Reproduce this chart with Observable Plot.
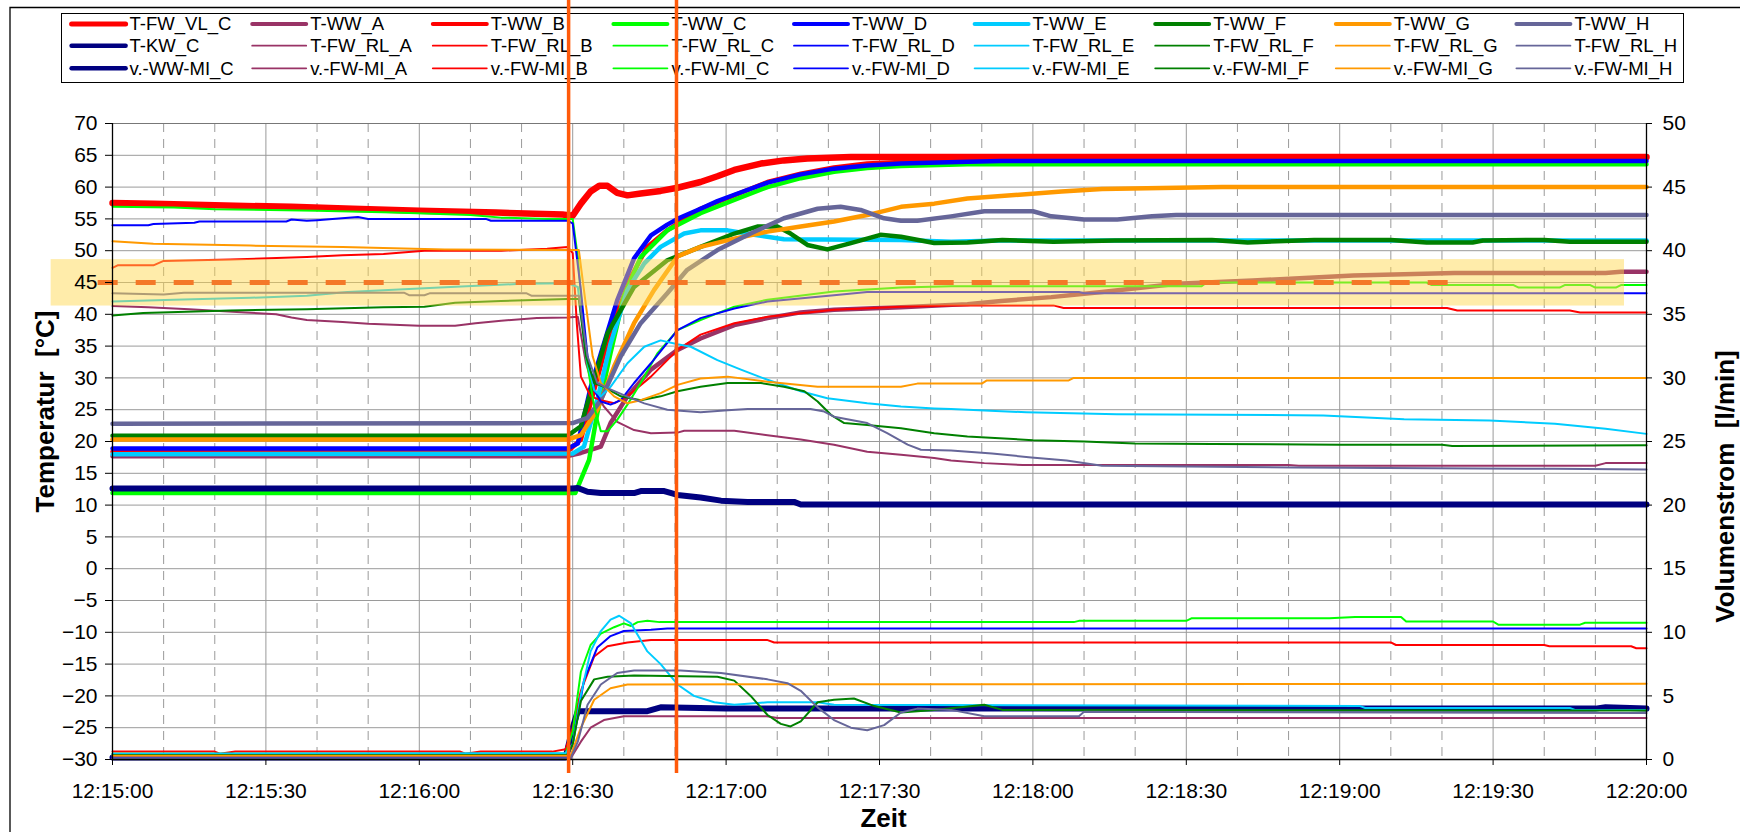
<!DOCTYPE html>
<html><head><meta charset="utf-8">
<script src="https://cdn.jsdelivr.net/npm/d3@7"></script>
<script src="https://cdn.jsdelivr.net/npm/@observablehq/plot@0.6"></script>
<style>
html,body{margin:0;padding:0;background:#fff;}
#wrap{position:relative;width:1740px;height:832px;overflow:hidden;font-family:"Liberation Sans",Arial,sans-serif;}
#legend,#chart{position:absolute;left:0;top:0;}
</style></head><body>
<div id="wrap"><svg id="legend" width="1740" height="832"></svg><div id="chart"></div></div>
<script>
// ---------- DATA (time = seconds after 12:15:00) ----------
const startClock = "12:15:00";
const timeTicks = [0, 30, 60, 90, 120, 150, 180, 210, 240, 270, 300];
const timeMinor = [10, 20, 40, 50, 70, 80, 100, 110, 130, 140, 160, 170, 190, 200, 220, 230, 250, 260, 280, 290];
const tempTicks = [-30,-25,-20,-15,-10,-5,0,5,10,15,20,25,30,35,40,45,50,55,60,65,70];

// temperatures [°C]
const T_FW_VL_C = [[0,57.5],[8,57.4],[22,57.1],[35,56.9],[47,56.6],[60,56.3],[75,56.0],[88,55.7],[90,55.5],[91.6,57.4],[93.5,59.3],[95.2,60.2],[96.8,60.2],[98.7,59.1],[100.7,58.7],[103.3,59.0],[107.2,59.4],[110.5,59.9],[115,60.8],[118.3,61.7],[121.6,62.7],[126.8,63.7],[131.3,64.2],[135.9,64.5],[144.4,64.75],[300,64.75]];
const T_WW_A = [[0,17.7],[89,17.7],[91.6,18.2],[93.5,18.7],[95.5,19.2],[97.4,22.9],[100.7,27.1],[105.3,31.3],[110.5,34.4],[115,36.2],[121.6,38.3],[128.1,39.4],[134.6,40.3],[141.1,40.7],[154.2,41.1],[167.2,41.6],[173.8,42.1],[183.6,42.7],[193.5,43.5],[208.2,44.8],[223,45.3],[242.7,46.1],[262.4,46.5],[292,46.5],[295,46.7],[300,46.7]];
const T_WW_B = [[0,18.4],[89,18.4],[91.6,20.3],[94.2,28.1],[97.4,37.5],[101.4,45.9],[104.6,50.6],[108.5,53.2],[115,56.6],[121.6,58.7],[128.1,60.8],[134.6,62.1],[141.1,63.1],[147.6,63.7],[160.7,64.2],[175,64.5],[300,64.5]];
const T_WW_C = [[0,11.9],[90.5,11.9],[93.2,17.1],[94.8,24.4],[97.4,33.9],[100,42.8],[103.3,49],[108.5,53.2],[115,55.9],[121.6,58.0],[128.1,60.0],[134.6,61.4],[141.1,62.4],[147.6,63.0],[154.2,63.3],[167.2,63.6],[300,63.6]];
const T_WW_D = [[0,18.9],[89,18.9],[91,19.7],[93.5,28.5],[95.5,33.8],[98.7,42.2],[102,48.8],[105.3,52.4],[108.5,54.1],[110.5,55.0],[115,56.6],[118.3,57.8],[121.6,58.8],[128.1,60.7],[134.6,62.0],[141.1,62.9],[147.6,63.4],[154.2,63.7],[167.2,64.0],[173.8,64.1],[300,64.1]];
const T_WW_E = [[0,18.0],[90,18.1],[92.2,19.2],[94.8,26.5],[97.4,35.4],[100.7,43.8],[104,48],[107.2,50.6],[111.8,52.7],[115,53.2],[120.3,53.2],[125.5,52.5],[131.3,51.8],[154.2,51.7],[164,51.4],[173.7,51.6],[300,51.6]];
const T_WW_F = [[0,20.9],[89,20.9],[91.6,22.4],[94.2,29.7],[96.8,37],[102,44.3],[108.5,48.5],[115,50.6],[121.6,52.7],[126.1,53.8],[130,53.8],[132.6,52.7],[135.9,50.9],[139.8,50.2],[144.4,51.2],[150.2,52.5],[154.2,52.2],[160.7,51.2],[167.2,51.3],[174,51.7],[184,51.4],[196,51.6],[215,51.7],[222,51.3],[235,51.7],[250,51.7],[257,51.3],[266,51.3],[268,51.6],[280,51.7],[285,51.4],[300,51.4]];
const T_WW_G = [[0,20.3],[89,20.3],[91.6,21],[94.8,25],[98.1,31.8],[102,38.6],[105.9,43.8],[110.5,49.1],[115,50.6],[121.6,51.9],[128.1,53],[134.6,53.8],[141.1,54.6],[147.6,55.6],[154.2,56.9],[160.7,57.4],[167.2,58.2],[173.8,58.6],[185.6,59.3],[193.5,59.7],[217,60],[300,60]];
const T_WW_H = [[0,22.8],[90,22.9],[92.9,23.7],[95.5,26.5],[99.4,33.4],[103.3,38.6],[108.5,43.3],[112.4,47],[118.3,50.1],[124.8,52.7],[131.3,55.1],[137.9,56.6],[142.4,56.9],[146.3,56.4],[150.9,55.1],[154.2,54.7],[157.4,54.7],[164,55.4],[170.5,56.2],[180,56.2],[183.6,55.4],[190,54.9],[196.5,54.9],[203.3,55.4],[208,55.6],[300,55.6]];
const T_KW_C = [[0,12.6],[90,12.6],[91,12.7],[92.9,12.1],[95.5,11.9],[102,11.9],[103.3,12.2],[107.9,12.2],[110.5,11.6],[115,11.2],[119,10.7],[124.2,10.5],[133.3,10.5],[134.6,10.1],[300,10.1]];
const T_FW_RL_A = [[0,41.3],[7,41.1],[15,40.8],[26,40.3],[32,40.0],[35,39.5],[38,39.1],[45,38.8],[50,38.5],[60,38.2],[67,38.2],[71,38.6],[76,39.0],[83,39.4],[89,39.5],[91,39.6],[92.6,32.3],[94.2,28.1],[96.1,25.5],[98.7,23.1],[102,21.8],[105.3,21.3],[110.5,21.4],[111.8,21.7],[121.6,21.7],[128.1,21.0],[134.6,20.3],[141.1,19.5],[147.6,18.4],[154.2,17.9],[160.7,17.4],[164,17.0],[170.5,16.6],[178,16.3],[230,16.3],[232,16.2],[290,16.2],[292,16.6],[300,16.6]];
const T_FW_RL_B = [[0,47.3],[1,47.7],[8,47.7],[10,48.4],[23,48.6],[38,49.0],[45,49.3],[53,49.5],[61,50.0],[76,50.0],[85,50.3],[89,50.6],[90,49.6],[90.8,38.6],[91.6,30.2],[93.5,27.1],[95.5,26.5],[98.1,26.0],[100.7,27.1],[105.3,30.2],[110.5,34.4],[115,36.8],[121.6,38.6],[128.1,39.6],[141.1,40.7],[154.2,41.2],[164,41.4],[184,41.4],[186,41.0],[261,41.0],[263,40.6],[285,40.6],[287,40.3],[300,40.3]];
const T_FW_RL_C = [[0,56.9],[12,56.8],[20,56.5],[40,56.3],[55,56.0],[70,55.6],[76,55.2],[85,55.0],[90,55.0],[91,49],[92.6,33.4],[94.2,25.5],[95.5,21.6],[96.8,21.6],[98.7,23.4],[100.7,25.8],[103.3,29.2],[106.6,33.9],[110.5,37.5],[115,39.1],[121.6,41.2],[128.1,42.3],[141.1,43.6],[154.2,44.2],[164,44.4],[213,44.4],[214,45.0],[257,45.0],[258,44.6],[274,44.6],[275,44.2],[283,44.2],[284,44.6],[289,44.6],[290,44.2],[294,44.2],[295,44.6],[300,44.6]];
const T_FW_RL_D = [[0,54.0],[7,54.0],[8,54.2],[16,54.4],[17,54.6],[34,54.6],[35,54.9],[38,54.7],[40,54.8],[43,55.0],[48,55.3],[50,55.0],[73,55.0],[74,54.7],[89,54.7],[90,54.3],[91.6,43.8],[92.9,33.4],[94.2,28.1],[95.5,26.3],[97.4,25.8],[99.4,26.5],[102,29.2],[105.3,32.3],[110.5,37.5],[115,39.4],[121.6,40.9],[128.1,42],[141.1,43],[147.6,43.5],[189,43.5],[190,43.3],[300,43.3]];
const T_FW_RL_E = [[0,42.0],[12,42.3],[27,42.6],[38,42.9],[46,43.5],[53,43.8],[64,44.2],[80,44.8],[89,44.9],[91,44.3],[92.6,33.4],[94.2,28.1],[95.5,27.1],[97.4,28.6],[100.7,32.3],[104,34.9],[107.2,35.9],[110.5,35.3],[113.1,34.9],[118.3,32.8],[122.9,31.3],[128.1,29.7],[134.6,27.9],[139.8,26.8],[147.6,26.0],[154.2,25.5],[160.7,25.2],[164,25.1],[178.7,24.6],[196.4,24.3],[236.8,24.1],[252.6,23.5],[269.3,23.3],[282.1,22.8],[292,22.0],[300,21.2]];
const T_FW_RL_F = [[0,39.8],[6,40.2],[23,40.6],[38,40.8],[53,41.1],[61,41.2],[67,41.8],[76,42.1],[89,42.4],[91.2,42.4],[92.6,33.4],[94.2,29.2],[96.1,28.6],[99.4,27.1],[103.3,26.5],[107.2,27.1],[110.5,27.9],[115,28.6],[120.3,29.2],[126.8,29.2],[131.3,28.6],[135.3,27.9],[137.9,26.3],[140.5,24.2],[143.1,22.9],[147.6,22.6],[154.2,22.1],[160.7,21.3],[167.2,20.8],[180,20.2],[190,20.0],[200,19.7],[215,19.6],[240,19.5],[260,19.5],[262,19.3],[300,19.4]];
const T_FW_RL_G = [[0,51.5],[8,51.1],[27,50.8],[45,50.6],[65,50.2],[91.2,50.1],[92.2,43.8],[93.9,33.4],[95.5,29.2],[98.1,27.1],[100.7,26.0],[103.3,26.5],[107.2,27.6],[110.5,28.9],[115,29.9],[120.3,30.2],[128.1,29.4],[137.9,28.6],[154.2,28.6],[157.4,29.1],[170,29.1],[171,29.6],[187,29.6],[188,30.0],[300,30.0]];
const T_FW_RL_H = [[0,43.3],[10,43.1],[14,43.4],[57,43.4],[58,43.0],[61,43.0],[62,43.3],[81,43.3],[82,42.9],[91.2,42.9],[92.9,33.4],[94.8,29.2],[96.8,28.4],[100,27.3],[104,26.0],[108.5,25.0],[115,24.6],[120.3,24.9],[124.2,25.1],[136.5,25.1],[139.2,24.7],[141.1,23.9],[147.6,22.9],[151.5,21.3],[155.5,19.5],[158.1,18.7],[164,18.6],[172,18.1],[179.7,17.5],[186.6,17.0],[193.5,16.2],[231,15.9],[282,15.7],[300,15.6]];

// flows [l/min] (secondary axis)
const V_WW_MI_C = [[0,0.15],[88.6,0.15],[90,2.5],[91,3.8],[104.6,3.8],[107.2,4.1],[120,4.0],[290,4.0],[292,4.1],[300,4.0]];
const V_FW_MI_A = [[0,0.1],[89.6,0.1],[91.6,1.4],[93.5,2.5],[96.1,3.1],[100,3.4],[128,3.4],[130,3.27],[300,3.27]];
const V_FW_MI_B = [[0,0.62],[20,0.62],[21,0.45],[24,0.62],[68,0.62],[69,0.45],[72,0.62],[86,0.62],[88.6,0.8],[90,2.5],[91.6,5.4],[94.2,8.1],[96.8,8.9],[100.7,9.2],[105.3,9.4],[128,9.4],[129.4,9.2],[250,9.2],[251,9.0],[280,9.0],[281,8.9],[297,8.9],[298,8.75],[300,8.75]];
const V_FW_MI_C = [[0,0.45],[88.6,0.45],[90,2.2],[91.6,6.9],[93.5,9.0],[95.5,9.9],[98.1,10.4],[100,10.7],[101.4,10.5],[102.7,10.8],[104.6,10.9],[107,10.8],[188,10.8],[189,10.9],[210,10.9],[211,11.1],[238,11.1],[243,11.2],[252,11.2],[253,10.85],[270,10.85],[271,10.6],[287,10.6],[288,10.75],[300,10.75]];
const V_FW_MI_D = [[0,0.2],[89,0.2],[90,1.2],[92.2,6.2],[94.8,8.8],[97.4,9.7],[100,10.1],[105.3,10.2],[108.5,10.3],[300,10.3]];
const V_FW_MI_E = [[0,0.45],[88.6,0.5],[90,1.2],[91.6,5.1],[93.5,8.5],[95.5,10.1],[97.4,11.0],[99.1,11.3],[101.4,10.7],[104.6,8.5],[107.2,7.5],[110.5,5.9],[113.7,5.0],[117.7,4.5],[121.6,4.3],[128.1,4.5],[137.9,4.5],[141.1,4.3],[244,4.2],[245,4.05],[285,4.05],[286,3.9],[300,3.9]];
const V_FW_MI_F = [[0,0.35],[89,0.35],[90,1.2],[91.6,4.6],[94.2,6.3],[96.8,6.5],[102,6.6],[118.3,6.5],[121.6,6.2],[124.8,5.0],[128.1,3.5],[130.7,2.8],[132.6,2.6],[134.6,3.0],[137.9,4.5],[141.1,4.7],[145,4.8],[149,4.2],[154.2,3.7],[160.7,3.9],[170.5,4.3],[174,3.9],[300,3.85]];
const V_FW_MI_G = [[0,0.3],[89.6,0.3],[91.6,2.5],[94.2,4.7],[97.4,5.6],[100.7,5.9],[300,5.95]];
const V_FW_MI_H = [[0,0.1],[89.6,0.1],[91,1.4],[92.9,4.3],[95.5,5.9],[98.7,6.8],[102,7.0],[111.1,7.0],[119,6.8],[128.1,6.3],[132,6.0],[134.6,5.4],[137.9,4.1],[141.1,3.1],[144.4,2.5],[147.6,2.3],[150.9,2.7],[154.2,3.7],[157.4,4.0],[164,3.9],[170.5,3.4],[189,3.4],[190,3.75],[300,3.65]];

// annotations
const markerTimes = [89.2, 110.3];
const targetTemp = [45];
const targetSpan = [-2.8, 261.4];
const bandTemp = [41.3, 48.6];
const bandSpan = [-12, 295.7];

// series names (legend order) and their data
const seriesNames = ["T-FW_VL_C","T-WW_A","T-WW_B","T-WW_C","T-WW_D","T-WW_E","T-WW_F","T-WW_G","T-WW_H",
  "T-KW_C","T-FW_RL_A","T-FW_RL_B","T-FW_RL_C","T-FW_RL_D","T-FW_RL_E","T-FW_RL_F","T-FW_RL_G","T-FW_RL_H",
  "v.-WW-MI_C","v.-FW-MI_A","v.-FW-MI_B","v.-FW-MI_C","v.-FW-MI_D","v.-FW-MI_E","v.-FW-MI_F","v.-FW-MI_G","v.-FW-MI_H"];
const seriesValues = [T_FW_VL_C,T_WW_A,T_WW_B,T_WW_C,T_WW_D,T_WW_E,T_WW_F,T_WW_G,T_WW_H,
  T_KW_C,T_FW_RL_A,T_FW_RL_B,T_FW_RL_C,T_FW_RL_D,T_FW_RL_E,T_FW_RL_F,T_FW_RL_G,T_FW_RL_H,
  V_WW_MI_C,V_FW_MI_A,V_FW_MI_B,V_FW_MI_C,V_FW_MI_D,V_FW_MI_E,V_FW_MI_F,V_FW_MI_G,V_FW_MI_H];

// ---------- STYLE ----------
const palette = ["#FF0000","#993366","#FF0000","#00FF00","#0000FF","#00CCFF","#008000","#FF9900","#666699"];
const colorOf = i => (i % 9 === 0) ? (i === 0 ? "#FF0000" : "#000080") : palette[i % 9];
const lineWidth = i => i === 0 ? 6.5 : (i < 9 ? 4.5 : (i === 9 || i === 18) ? 6 : 2);
const legWidth = i => i === 0 ? 5 : (i < 9 ? 4 : (i === 9 || i === 18) ? 4.5 : 1.8);
const isFlow = i => i >= 18;
const FONT = '"Liberation Sans", Arial, sans-serif';

// ---------- LEGEND + CHART BORDER (behind the plot) ----------
const leg = d3.select("#legend");
leg.append("path").attr("d", "M10,832V7.5H1740").attr("fill", "none").attr("stroke", "#000").attr("stroke-width", 1.3);
leg.append("rect").attr("x", 61.5).attr("y", 13.5).attr("width", 1622).attr("height", 69)
  .attr("fill", "#fff").attr("stroke", "#000").attr("stroke-width", 1);
const rowY = [24, 45.7, 68.3];
seriesNames.forEach((name, i) => {
  const row = Math.floor(i / 9), col = i % 9;
  const x0 = 71.6 + col * 180.6, y = rowY[row];
  leg.append("line").attr("x1", x0).attr("x2", x0 + 54).attr("y1", y).attr("y2", y)
    .attr("stroke", colorOf(i)).attr("stroke-width", legWidth(i)).attr("stroke-linecap", "round");
  leg.append("text").attr("x", x0 + 58).attr("y", y).attr("dy", "0.35em")
    .attr("font-family", FONT).attr("font-size", 18.5).attr("fill", "#000").text(name);
});

// ---------- PLOT ----------
const [h0, m0, s0] = startClock.split(":").map(Number);
const base = h0 * 3600 + m0 * 60 + s0;
const pad = n => String(n).padStart(2, "0");
const clock = t => { const s = base + t; return `${pad(Math.floor(s / 3600))}:${pad(Math.floor(s / 60) % 60)}:${pad(s % 60)}`; };

const toRows = (arr, i) => arr.map(([t, v]) => ({t, v, flow: isFlow(i)}));
const yOf = d => d.flow ? d.v * 2 - 30 : d.v; // secondary axis 0..50 l/min ↔ -30..70 °C

const lineMarks = seriesValues.map((arr, i) =>
  Plot.line(toRows(arr, i), {x: "t", y: yOf, stroke: colorOf(i), strokeWidth: lineWidth(i), strokeLinejoin: "round", strokeLinecap: "round"}));

const xDom = [timeTicks[0], timeTicks[timeTicks.length - 1]];
const yDom = [tempTicks[0], tempTicks[tempTicks.length - 1]];

const chart = Plot.plot({
  width: 1740, height: 832,
  marginLeft: 112, marginRight: 94, marginTop: 123, marginBottom: 73,
  x: {domain: xDom}, y: {domain: yDom},
  style: {background: "transparent", fontFamily: FONT, fontSize: "21px", color: "#000", overflow: "visible"},
  marks: [
    Plot.ruleY(tempTicks, {stroke: "#9a9a9a", strokeWidth: 1}),
    Plot.ruleX(timeMinor, {stroke: "#9a9a9a", strokeWidth: 1, strokeDasharray: "9,7"}),
    Plot.ruleX(timeTicks, {stroke: "#9a9a9a", strokeWidth: 1}),
    Plot.ruleY([yDom[1]], {stroke: "#777", strokeWidth: 1.2}),
    ...lineMarks,
    Plot.rect([{x1: bandSpan[0], x2: bandSpan[1], y1: bandTemp[0], y2: bandTemp[1]}],
      {x1: "x1", x2: "x2", y1: "y1", y2: "y2", fill: "#FFD84D", fillOpacity: 0.48}),
    Plot.ruleY(targetTemp.map(y => ({y, x1: targetSpan[0], x2: targetSpan[1]})),
      {y: "y", x1: "x1", x2: "x2", stroke: "#F47828", strokeWidth: 5, strokeDasharray: "20,18"}),
    Plot.ruleY([yDom[0]], {stroke: "#000", strokeWidth: 1.3}),
    Plot.ruleX([xDom[0]], {stroke: "#000", strokeWidth: 1.3}),
    Plot.ruleX([xDom[1]], {stroke: "#000", strokeWidth: 1.3}),
    Plot.axisY(tempTicks, {anchor: "left", tickSize: 7, tickPadding: 8, label: null}),
    Plot.axisY(tempTicks.filter(d => d % 10 === 0), {anchor: "right", tickSize: 5, tickPadding: 11, label: null,
      tickFormat: d => String((d - yDom[0]) / 2)}),
    Plot.axisX(timeTicks, {anchor: "bottom", tickSize: 6, tickPadding: 18, label: null, tickFormat: clock}),
    Plot.ruleX(markerTimes, {stroke: "#FF5A0A", strokeWidth: 3.5, insetTop: -123, insetBottom: -14}),
    Plot.text(["Temperatur  [°C]"], {frameAnchor: "left", dx: -67, dy: -30, rotate: -90, textAnchor: "middle", lineAnchor: "middle", fontSize: 26, fontWeight: "bold", fill: "#000"}),
    Plot.text(["Volumenstrom  [l/min]"], {frameAnchor: "right", dx: 79, dy: 45, rotate: -90, textAnchor: "middle", lineAnchor: "middle", fontSize: 26, fontWeight: "bold", fill: "#000"}),
    Plot.text(["Zeit"], {frameAnchor: "bottom", dx: 4, dy: 59, textAnchor: "middle", lineAnchor: "middle", fontSize: 26, fontWeight: "bold", fill: "#000"})
  ]
});
document.getElementById("chart").appendChild(chart);
</script></body></html>
